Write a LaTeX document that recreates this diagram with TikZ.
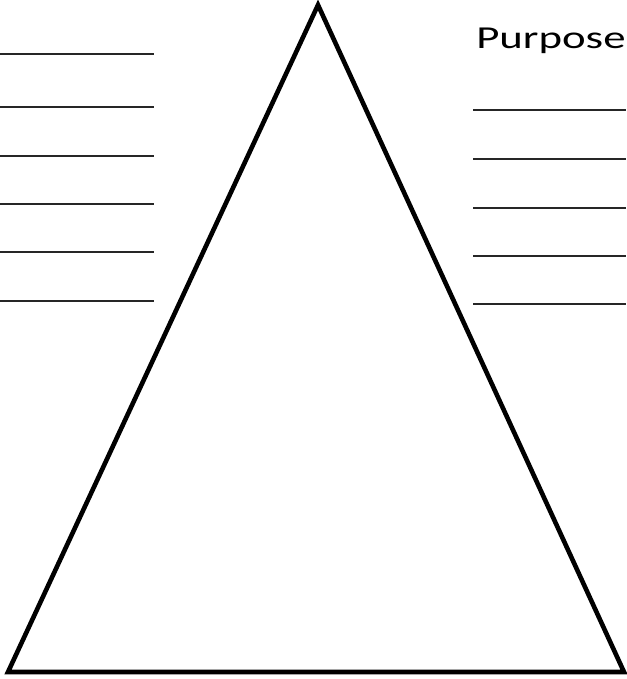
\documentclass[tikz,border=0pt]{standalone}
\usepackage{fontspec}
\setmainfont{Carlito}
\usepackage{tikz}
\usetikzlibrary{positioning}

\begin{document}
\begin{tikzpicture}[x=1pt, y=1pt]
    \tikzstyle{rule}=[line width=1.6pt, black!85]
    \tikzstyle{tri}=[line width=4.6pt, line join=miter]
    \useasboundingbox (0,0) rectangle (626,679);
    % Triangle
    \coordinate (apex) at (318,674);
    \coordinate (bl) at (8,7);
    \coordinate (br) at (624,7);
    \draw[tri] (apex) -- (br) -- (bl) -- cycle;
    % Writing lines on the left
    \foreach \y in {54,107,156,204,252,301}
        \draw[rule] (0,679-\y) -- (154,679-\y);
    % Heading and writing lines on the right
    \node[anchor=base west, inner sep=0pt, font=\fontsize{32}{32}\selectfont, xscale=1.4] (purpose) at (476,630) {Purpose};
    \foreach \y in {110,159,208,256,304}
        \draw[rule] (473,679-\y) -- (626,679-\y);
\end{tikzpicture}
\end{document}
